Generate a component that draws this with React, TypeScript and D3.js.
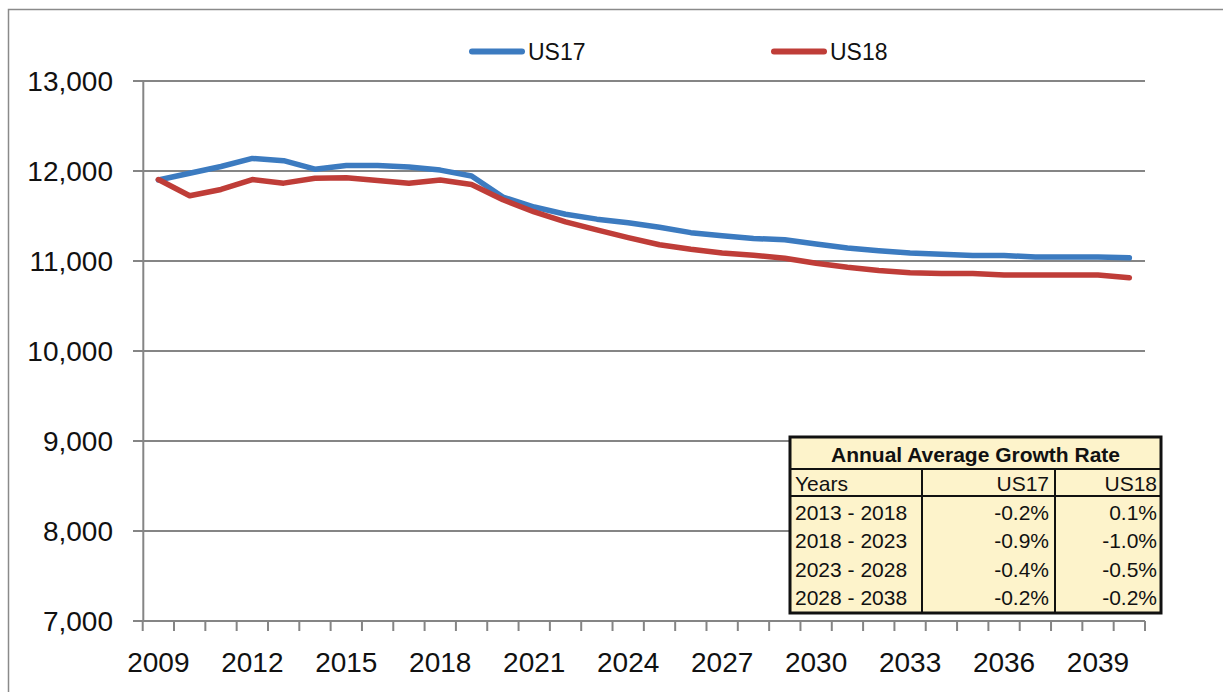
import React from "react";
import * as d3 from "d3";

const years: number[] = d3.range(2009, 2041);
const us17: number[] = [
  11900, 11975, 12050, 12140, 12115, 12020, 12060, 12060, 12045, 12010, 11945,
  11710, 11600, 11520, 11465, 11425, 11375, 11315, 11280, 11250, 11235, 11190,
  11145, 11115, 11090, 11075, 11060, 11060, 11045, 11045, 11045, 11035,
];
const us18: number[] = [
  11905, 11725, 11795, 11905, 11865, 11920, 11925, 11895, 11865, 11900, 11850,
  11680, 11545, 11435, 11345, 11260, 11180, 11130, 11090, 11065, 11030, 10975,
  10930, 10895, 10870, 10860, 10860, 10845, 10845, 10845, 10845, 10815,
];
const yTicks: number[] = [7000, 8000, 9000, 10000, 11000, 12000, 13000];
const xLabelYears: number[] = [2009, 2012, 2015, 2018, 2021, 2024, 2027, 2030, 2033, 2036, 2039];
const seriesNames: string[] = ["US17", "US18"];
const tableTitle = "Annual Average Growth Rate";
const tableHeader: string[] = ["Years", "US17", "US18"];
const tablePeriods: string[] = ["2013 - 2018", "2018 - 2023", "2023 - 2028", "2028 - 2038"];
const tableUS17: string[] = ["-0.2%", "-0.9%", "-0.4%", "-0.2%"];
const tableUS18: string[] = ["0.1%", "-1.0%", "-0.5%", "-0.2%"];

const BLUE = "#3C7BC0";
const RED = "#BF3D38";
const GRID = "#858585";
const FONT = "'Liberation Sans', Arial, sans-serif";

export default function App() {
  const W = 1223;
  const H = 692;
  const left = 142.7;
  const right = 1145;
  const top = 81;
  const bottom = 621;

  const x = d3.scaleBand<number>().domain(years).range([left, right]).padding(0);
  const xc = (yr: number) => (x(yr) as number) + x.bandwidth() / 2;
  const y = d3.scaleLinear().domain([7000, 13000]).range([bottom, top]);

  const line = d3
    .line<number>()
    .x((_, i) => xc(years[i]))
    .y((d) => y(d))
    .curve(d3.curveLinear);

  const tickXs = years.map((yr) => x(yr) as number).concat([right]);

  // table geometry
  const tL = 790, tR = 1161, tT = 437, tB = 613;
  const hLine1 = 469, hLine2 = 496;
  const c1 = 922, c2 = 1055;
  const rowBase = [519.5, 547.5, 576.5, 605];

  const legend = [
    { name: seriesNames[0], color: BLUE, x0: 469 },
    { name: seriesNames[1], color: RED, x0: 771 },
  ];

  return (
    <svg
      width={W}
      height={H}
      style={{ position: "absolute", left: 0, top: 0, background: "#fff" }}
      fontFamily={FONT}
    >
      <rect x={0} y={0} width={W} height={H} fill="#fff" />
      <rect x={8.5} y={9.5} width={W + 20} height={H + 20} fill="none" stroke="#8a8a8a" strokeWidth={1.5} />

      {/* gridlines */}
      {yTicks.map((t) => (
        <line key={t} x1={133} x2={right} y1={y(t)} y2={y(t)} stroke={GRID} strokeWidth={2} />
      ))}
      {/* y axis */}
      <line x1={left + 0.6} x2={left + 0.6} y1={top} y2={bottom} stroke={GRID} strokeWidth={2} />
      {/* x ticks */}
      {tickXs.map((tx, i) => (
        <line key={i} x1={tx} x2={tx} y1={bottom} y2={631} stroke={GRID} strokeWidth={2} />
      ))}

      {/* y labels */}
      {yTicks.map((t) => (
        <text key={t} x={113} y={y(t) + 10} textAnchor="end" fontSize={28} fill="#111">
          {d3.format(",")(t)}
        </text>
      ))}
      {/* x labels */}
      {xLabelYears.map((yr) => (
        <text key={yr} x={xc(yr)} y={672} textAnchor="middle" fontSize={28} fill="#111">
          {yr}
        </text>
      ))}

      {/* lines */}
      <path d={line(us17) || ""} fill="none" stroke={BLUE} strokeWidth={5.5} strokeLinejoin="round" strokeLinecap="round" />
      <path d={line(us18) || ""} fill="none" stroke={RED} strokeWidth={5.5} strokeLinejoin="round" strokeLinecap="round" />

      {/* legend */}
      {legend.map((l) => (
        <g key={l.name}>
          <line x1={l.x0 + 3} x2={l.x0 + 53} y1={51.5} y2={51.5} stroke={l.color} strokeWidth={6} strokeLinecap="round" />
          <text x={l.x0 + 59} y={59.5} fontSize={23} fill="#111">
            {l.name}
          </text>
        </g>
      ))}

      {/* table */}
      <g>
        <rect x={tL} y={tT} width={tR - tL} height={tB - tT} fill="#FDF3CB" stroke="#111" strokeWidth={3} />
        <line x1={tL} x2={tR} y1={hLine1} y2={hLine1} stroke="#111" strokeWidth={2} />
        <line x1={tL} x2={tR} y1={hLine2} y2={hLine2} stroke="#111" strokeWidth={2} />
        <line x1={c1} x2={c1} y1={hLine1} y2={tB} stroke="#111" strokeWidth={2} />
        <line x1={c2} x2={c2} y1={hLine1} y2={tB} stroke="#111" strokeWidth={2} />
        <text x={(tL + tR) / 2} y={462} textAnchor="middle" fontSize={21} fontWeight="bold" fill="#111">
          {tableTitle}
        </text>
        <text x={795} y={491} fontSize={21} fill="#111">{tableHeader[0]}</text>
        <text x={c2 - 6} y={491} fontSize={21} textAnchor="end" fill="#111">{tableHeader[1]}</text>
        <text x={tR - 4} y={491} fontSize={21} textAnchor="end" fill="#111">{tableHeader[2]}</text>
        {tablePeriods.map((p, i) => (
          <g key={p}>
            <text x={795} y={rowBase[i]} fontSize={21} fill="#111">{p}</text>
            <text x={c2 - 6} y={rowBase[i]} fontSize={21} textAnchor="end" fill="#111">{tableUS17[i]}</text>
            <text x={tR - 4} y={rowBase[i]} fontSize={21} textAnchor="end" fill="#111">{tableUS18[i]}</text>
          </g>
        ))}
      </g>
    </svg>
  );
}
